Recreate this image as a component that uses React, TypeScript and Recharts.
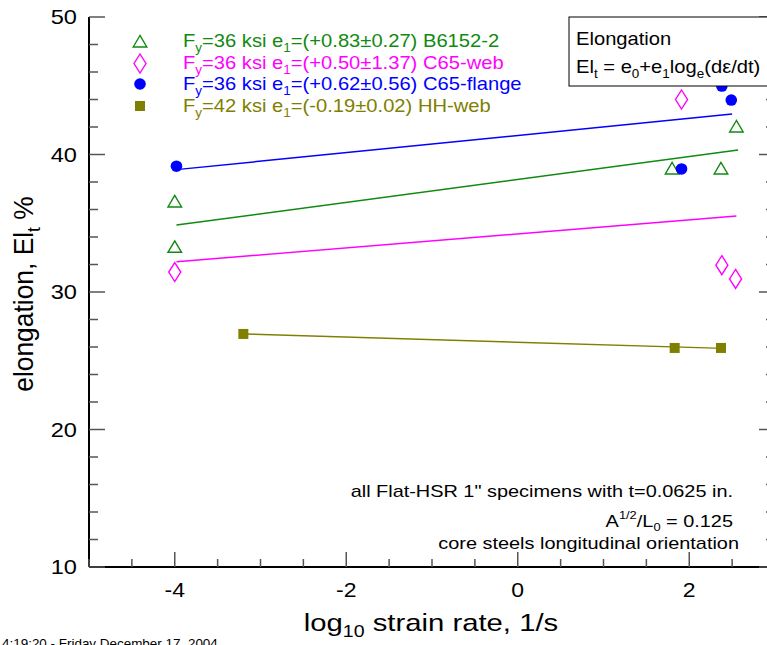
import React from "react";
import { ScatterChart, Scatter, XAxis, YAxis } from "recharts";

// measured points, x = log10 strain rate, y = elongation %
const b6152 = [
  { x: -4, y: 36.55 },
  { x: -4, y: 33.25 },
  { x: 1.8, y: 38.95 },
  { x: 2.37, y: 38.95 },
  { x: 2.55, y: 42.0 },
];
const c65web = [
  { x: -4, y: 31.45 },
  { x: 1.91, y: 44.0 },
  { x: 2.38, y: 31.95 },
  { x: 2.54, y: 30.95 },
];
const c65flange = [
  { x: -3.98, y: 39.15 },
  { x: 1.91, y: 38.95 },
  { x: 2.38, y: 44.98 },
  { x: 2.49, y: 43.96 },
];
const hhweb = [
  { x: -3.2, y: 26.95 },
  { x: 1.83, y: 25.93 },
  { x: 2.37, y: 25.93 },
];

// fitted lines
const fitB6152 = [
  { x: -3.98, y: 34.87 },
  { x: 2.57, y: 40.33 },
];
const fitC65web = [
  { x: -3.98, y: 32.2 },
  { x: 2.55, y: 35.53 },
];
const fitC65flange = [
  { x: -3.98, y: 38.9 },
  { x: 2.5, y: 42.95 },
];
const fitHHweb = [
  { x: -3.2, y: 26.95 },
  { x: 2.4, y: 25.9 },
];

const xTicks = [-5, -4.5, -4, -3.5, -3, -2.5, -2, -1.5, -1, -0.5, 0, 0.5, 1, 1.5, 2, 2.5, 3];
const xMajor = [-4, -2, 0, 2];
const yTicks = [10, 12, 14, 16, 18, 20, 22, 24, 26, 28, 30, 32, 34, 36, 38, 40, 42, 44, 46, 48, 50];
const yMajor = [10, 20, 30, 40, 50];

const GREEN = "#108a10";
const MAGENTA = "#ff00ff";
const BLUE = "#0000ff";
const OLIVE = "#808000";
const TICK = "#555";
const FONT = '"Liberation Sans", Arial, sans-serif';

// the original text is a bit wider than Arial, so stretch it horizontally
const SText = ({ x, y, s = 1.15, children, ...rest }: any) => (
  <g transform={`translate(${x},${y}) scale(${s},1)`}>
    <text x={0} y={0} fontFamily={FONT} fill="#000" {...rest}>
      {children}
    </text>
  </g>
);

const Triangle = ({ cx, cy }: any) => (
  <polygon
    points={`${cx},${cy - 6.5} ${cx - 6.8},${cy + 5} ${cx + 6.8},${cy + 5}`}
    fill="none"
    stroke={GREEN}
    strokeWidth={1.4}
  />
);
const Diamond = ({ cx, cy }: any) => (
  <polygon
    points={`${cx},${cy - 9.5} ${cx + 6},${cy} ${cx},${cy + 9.5} ${cx - 6},${cy}`}
    fill="none"
    stroke={MAGENTA}
    strokeWidth={1.4}
  />
);
const Dot = ({ cx, cy }: any) => <circle cx={cx} cy={cy} r={5.8} fill={BLUE} />;
const Square = ({ cx, cy }: any) => <rect x={cx - 5} y={cy - 5} width={10} height={10} fill={OLIVE} />;
const NoDot = () => <g />;

const BottomTick = ({ x, y, payload }: any) => {
  const major = xMajor.includes(payload.value);
  return (
    <g>
      <line x1={x} x2={x} y1={y} y2={y - (major ? 15 : 8)} stroke={TICK} strokeWidth={1.5} />
      {major && (
        <SText x={x} y={y + 30} s={1.15} textAnchor="middle" fontSize={20}>
          {payload.value}
        </SText>
      )}
    </g>
  );
};
const TopTick = ({ x, y, payload }: any) => {
  const major = xMajor.includes(payload.value);
  return <line x1={x} x2={x} y1={y} y2={y + (major ? 15 : 8)} stroke={TICK} strokeWidth={1.5} />;
};
const LeftTick = ({ x, y, payload }: any) => {
  const major = yMajor.includes(payload.value);
  return (
    <g>
      <line x1={x} x2={x + (major ? 16 : 9)} y1={y} y2={y} stroke={TICK} strokeWidth={1.5} />
      {major && (
        <SText x={x - 12} y={y + 7} s={1.18} textAnchor="end" fontSize={20}>
          {payload.value}
        </SText>
      )}
    </g>
  );
};
const RightTick = ({ x, y, payload }: any) => {
  const major = yMajor.includes(payload.value);
  return <line x1={x} x2={x - (major ? 16 : 9)} y1={y} y2={y} stroke={TICK} strokeWidth={1.5} />;
};

const legendRows = [
  { color: GREEN, fy: "36", e1: "(+0.83\u00b10.27)", name: "B6152-2", Icon: Triangle },
  { color: MAGENTA, fy: "36", e1: "(+0.50\u00b11.37)", name: "C65-web", Icon: Diamond },
  { color: BLUE, fy: "36", e1: "(+0.62\u00b10.56)", name: "C65-flange", Icon: Dot },
  { color: OLIVE, fy: "42", e1: "(-0.19\u00b10.02)", name: "HH-web", Icon: Square },
];
const legendSymbolY = [42, 63.5, 84, 106];
const legendTextY = [47, 68.5, 90, 111.5];

const axis = { stroke: "#000", strokeWidth: 2 };

export default function App() {
  return (
    <div
      style={{
        position: "fixed",
        left: 0,
        top: 0,
        width: 767,
        height: 645,
        overflow: "hidden",
        background: "#fff",
      }}
    >
      <ScatterChart width={800} height={645} margin={{ top: 17, right: 0, bottom: 28, left: 29 }}>
        <XAxis
          type="number"
          dataKey="x"
          domain={[-5, 3]}
          ticks={xTicks}
          interval={0}
          height={50}
          tickSize={0}
          tickMargin={0}
          tickLine={false}
          axisLine={axis}
          tick={<BottomTick />}
        />
        <XAxis
          xAxisId="top"
          orientation="top"
          type="number"
          dataKey="x"
          domain={[-5, 3]}
          ticks={xTicks}
          interval={0}
          height={0}
          tickSize={0}
          tickMargin={0}
          tickLine={false}
          axisLine={axis}
          tick={<TopTick />}
        />
        <YAxis
          type="number"
          dataKey="y"
          domain={[10, 50]}
          ticks={yTicks}
          interval={0}
          width={60}
          tickSize={0}
          tickMargin={0}
          tickLine={false}
          axisLine={axis}
          tick={<LeftTick />}
        />
        <YAxis
          yAxisId="right"
          orientation="right"
          type="number"
          dataKey="y"
          domain={[10, 50]}
          ticks={yTicks}
          interval={0}
          width={25}
          tickSize={0}
          tickMargin={0}
          tickLine={false}
          axisLine={axis}
          tick={<RightTick />}
        />
        {/* fit lines go on the top/right axes, which share the same domains */}
        <Scatter xAxisId="top" yAxisId="right" data={fitB6152} line={{ stroke: GREEN, strokeWidth: 1.5 }} shape={<NoDot />} isAnimationActive={false} />
        <Scatter xAxisId="top" yAxisId="right" data={fitC65web} line={{ stroke: MAGENTA, strokeWidth: 1.5 }} shape={<NoDot />} isAnimationActive={false} />
        <Scatter xAxisId="top" yAxisId="right" data={fitC65flange} line={{ stroke: BLUE, strokeWidth: 1.5 }} shape={<NoDot />} isAnimationActive={false} />
        <Scatter xAxisId="top" yAxisId="right" data={fitHHweb} line={{ stroke: OLIVE, strokeWidth: 1.5 }} shape={<NoDot />} isAnimationActive={false} />
        <Scatter data={b6152} shape={<Triangle />} isAnimationActive={false} />
        <Scatter data={c65web} shape={<Diamond />} isAnimationActive={false} />
        <Scatter data={c65flange} shape={<Dot />} isAnimationActive={false} />
        <Scatter data={hhweb} shape={<Square />} isAnimationActive={false} />
      </ScatterChart>

      <svg
        width={767}
        height={645}
        style={{ position: "absolute", left: 0, top: 0, pointerEvents: "none" }}
      >
        {legendRows.map((r, i) => (
          <g key={r.name}>
            <r.Icon cx={140} cy={legendSymbolY[i]} />
            <SText x={183} y={legendTextY[i]} s={1.12} fontSize={18} fill={r.color}>
              F<tspan dy={5} fontSize={12}>y</tspan>
              <tspan dy={-5}>={r.fy} ksi e</tspan>
              <tspan dy={5} fontSize={12}>1</tspan>
              <tspan dy={-5}>={r.e1} {r.name}</tspan>
            </SText>
          </g>
        ))}

        <rect x={569} y={17} width={220} height={69} fill="#fff" stroke="#000" strokeWidth={1} />
        <SText x={576} y={45} s={1.12} fontSize={18}>
          Elongation
        </SText>
        <SText x={576} y={73} s={1.12} fontSize={18}>
          El<tspan dy={5} fontSize={12}>t</tspan>
          <tspan dy={-5}> = e</tspan>
          <tspan dy={5} fontSize={12}>0</tspan>
          <tspan dy={-5}>+e</tspan>
          <tspan dy={5} fontSize={12}>1</tspan>
          <tspan dy={-5}>log</tspan>
          <tspan dy={5} fontSize={12}>e</tspan>
          <tspan dy={-5}>(d{"\u03b5"}/dt)</tspan>
        </SText>

        <SText x={733} y={497} s={1.17} fontSize={17} textAnchor="end">
          all Flat-HSR 1" specimens with t=0.0625 in.
        </SText>
        <SText x={733} y={527} s={1.17} fontSize={17} textAnchor="end">
          A<tspan dy={-8} fontSize={11}>1/2</tspan>
          <tspan dy={8}>/L</tspan>
          <tspan dy={4} fontSize={11}>0</tspan>
          <tspan dy={-4}> = 0.125</tspan>
        </SText>
        <SText x={739} y={549} s={1.17} fontSize={17} textAnchor="end">
          core steels longitudinal orientation
        </SText>

        <SText x={431} y={631} s={1.22} fontSize={24} textAnchor="middle">
          log<tspan dy={6} fontSize={16}>10</tspan>
          <tspan dy={-6}> strain rate, 1/s</tspan>
        </SText>
        <g transform="translate(33, 294) rotate(-90) scale(1.1, 1.18)">
          <text x={0} y={0} fontFamily={FONT} fontSize={24} textAnchor="middle" fill="#000">
            elongation, El<tspan dy={6} fontSize={16}>t</tspan>
            <tspan dy={-6}> %</tspan>
          </text>
        </g>

        <SText x={2} y={648} s={1.12} fontSize={12}>
          4:19:20 - Friday December 17, 2004
        </SText>
      </svg>
    </div>
  );
}
